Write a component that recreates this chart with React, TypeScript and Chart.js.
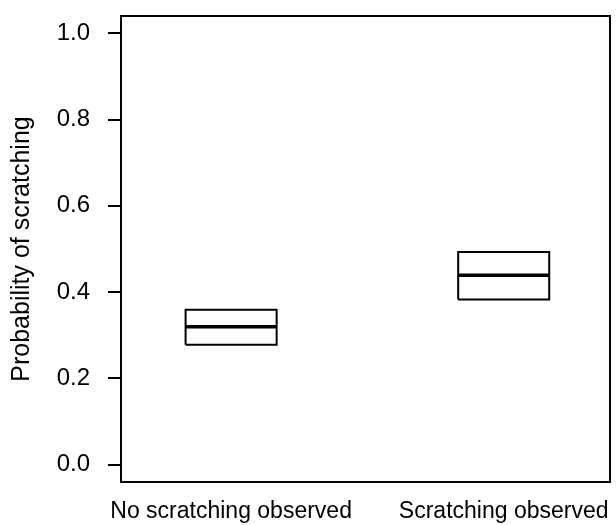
import React, { useEffect, useRef } from 'react';
import { Chart, registerables } from 'chart.js';

Chart.register(...registerables);

const groups = ['No scratching observed', 'Scratching observed'];
const groupPositions = [1, 2];
const lowerValues = [0.278, 0.383];
const upperValues = [0.359, 0.493];
const centerValues = [0.32, 0.439];
const yTickValues = [0, 0.2, 0.4, 0.6, 0.8, 1.0];

const BOX_HALF = 0.167;
const FONT = "'Liberation Sans', Arial, Helvetica, sans-serif";

const framePlugin = {
  id: 'frame',
  afterDraw(chart: any) {
    const { ctx, chartArea } = chart;
    ctx.save();
    ctx.strokeStyle = '#000';
    ctx.lineWidth = 2;
    ctx.strokeRect(chartArea.left, chartArea.top, chartArea.right - chartArea.left, chartArea.bottom - chartArea.top);
    ctx.restore();
  },
};

export default function App() {
  const ref = useRef<HTMLCanvasElement | null>(null);

  useEffect(() => {
    if (!ref.current) return;
    const datasets: any[] = [];
    groupPositions.forEach((x, i) => {
      const lo = lowerValues[i];
      const hi = upperValues[i];
      datasets.push({
        label: groups[i] + ' box',
        data: [
          { x: x - BOX_HALF, y: lo },
          { x: x + BOX_HALF, y: lo },
          { x: x + BOX_HALF, y: hi },
          { x: x - BOX_HALF, y: hi },
          { x: x - BOX_HALF, y: lo },
        ],
        showLine: true,
        borderColor: '#000',
        borderWidth: 2,
        pointRadius: 0,
        fill: false,
        tension: 0,
      });
      datasets.push({
        label: groups[i] + ' center',
        data: [
          { x: x - BOX_HALF, y: centerValues[i] },
          { x: x + BOX_HALF, y: centerValues[i] },
        ],
        showLine: true,
        borderColor: '#000',
        borderWidth: 3.5,
        pointRadius: 0,
        fill: false,
      });
    });

    const chart = new Chart(ref.current, {
      type: 'scatter',
      data: { datasets },
      plugins: [framePlugin],
      options: {
        animation: false,
        responsive: false,
        devicePixelRatio: 1,
        layout: { padding: { top: 16, right: 6, left: 0, bottom: 0 } },
        plugins: { legend: { display: false }, tooltip: { enabled: false } },
        scales: {
          x: {
            type: 'linear',
            min: 0.596,
            max: 2.39,
            border: { display: false },
            grid: { display: false, drawTicks: false },
            afterBuildTicks: (scale: any) => {
              scale.ticks = groupPositions.map((v) => ({ value: v }));
            },
            afterFit: (scale: any) => {
              scale.height = 43;
              scale.paddingLeft = 0;
              scale.paddingRight = 0;
            },
            ticks: {
              maxRotation: 0,
              autoSkip: false,
              padding: 16,
              color: '#000',
              font: { family: FONT, size: 23 },
              callback: (v: any) => {
                const idx = groupPositions.indexOf(Number(v));
                return idx >= 0 ? groups[idx] : '';
              },
            },
          },
          y: {
            type: 'linear',
            min: -0.04,
            max: 1.04,
            border: { display: false },
            grid: {
              display: true,
              drawOnChartArea: false,
              drawTicks: true,
              tickLength: 13,
              color: '#000',
              lineWidth: 2,
            },
            afterBuildTicks: (scale: any) => {
              scale.ticks = yTickValues.map((v) => ({ value: v }));
            },
            afterFit: (scale: any) => {
              scale.width = 121;
              scale.paddingTop = 0;
              scale.paddingBottom = 0;
            },
            ticks: {
              padding: 18,
              color: '#000',
              font: { family: FONT, size: 24 },
              callback: (v: any) => Number(v).toFixed(1),
            },
            title: {
              display: true,
              text: 'Probability of scratching',
              color: '#000',
              font: { family: FONT, size: 25, lineHeight: 1.2 },
              padding: { top: 7, bottom: 0 },
            },
          },
        },
      },
    });
    return () => chart.destroy();
  }, []);

  return (
    <div style={{ position: 'fixed', left: 0, top: 0, width: 616, height: 525, background: '#fff' }}>
      <canvas ref={ref} width={616} height={525} style={{ width: 616, height: 525, display: 'block' }} />
    </div>
  );
}
